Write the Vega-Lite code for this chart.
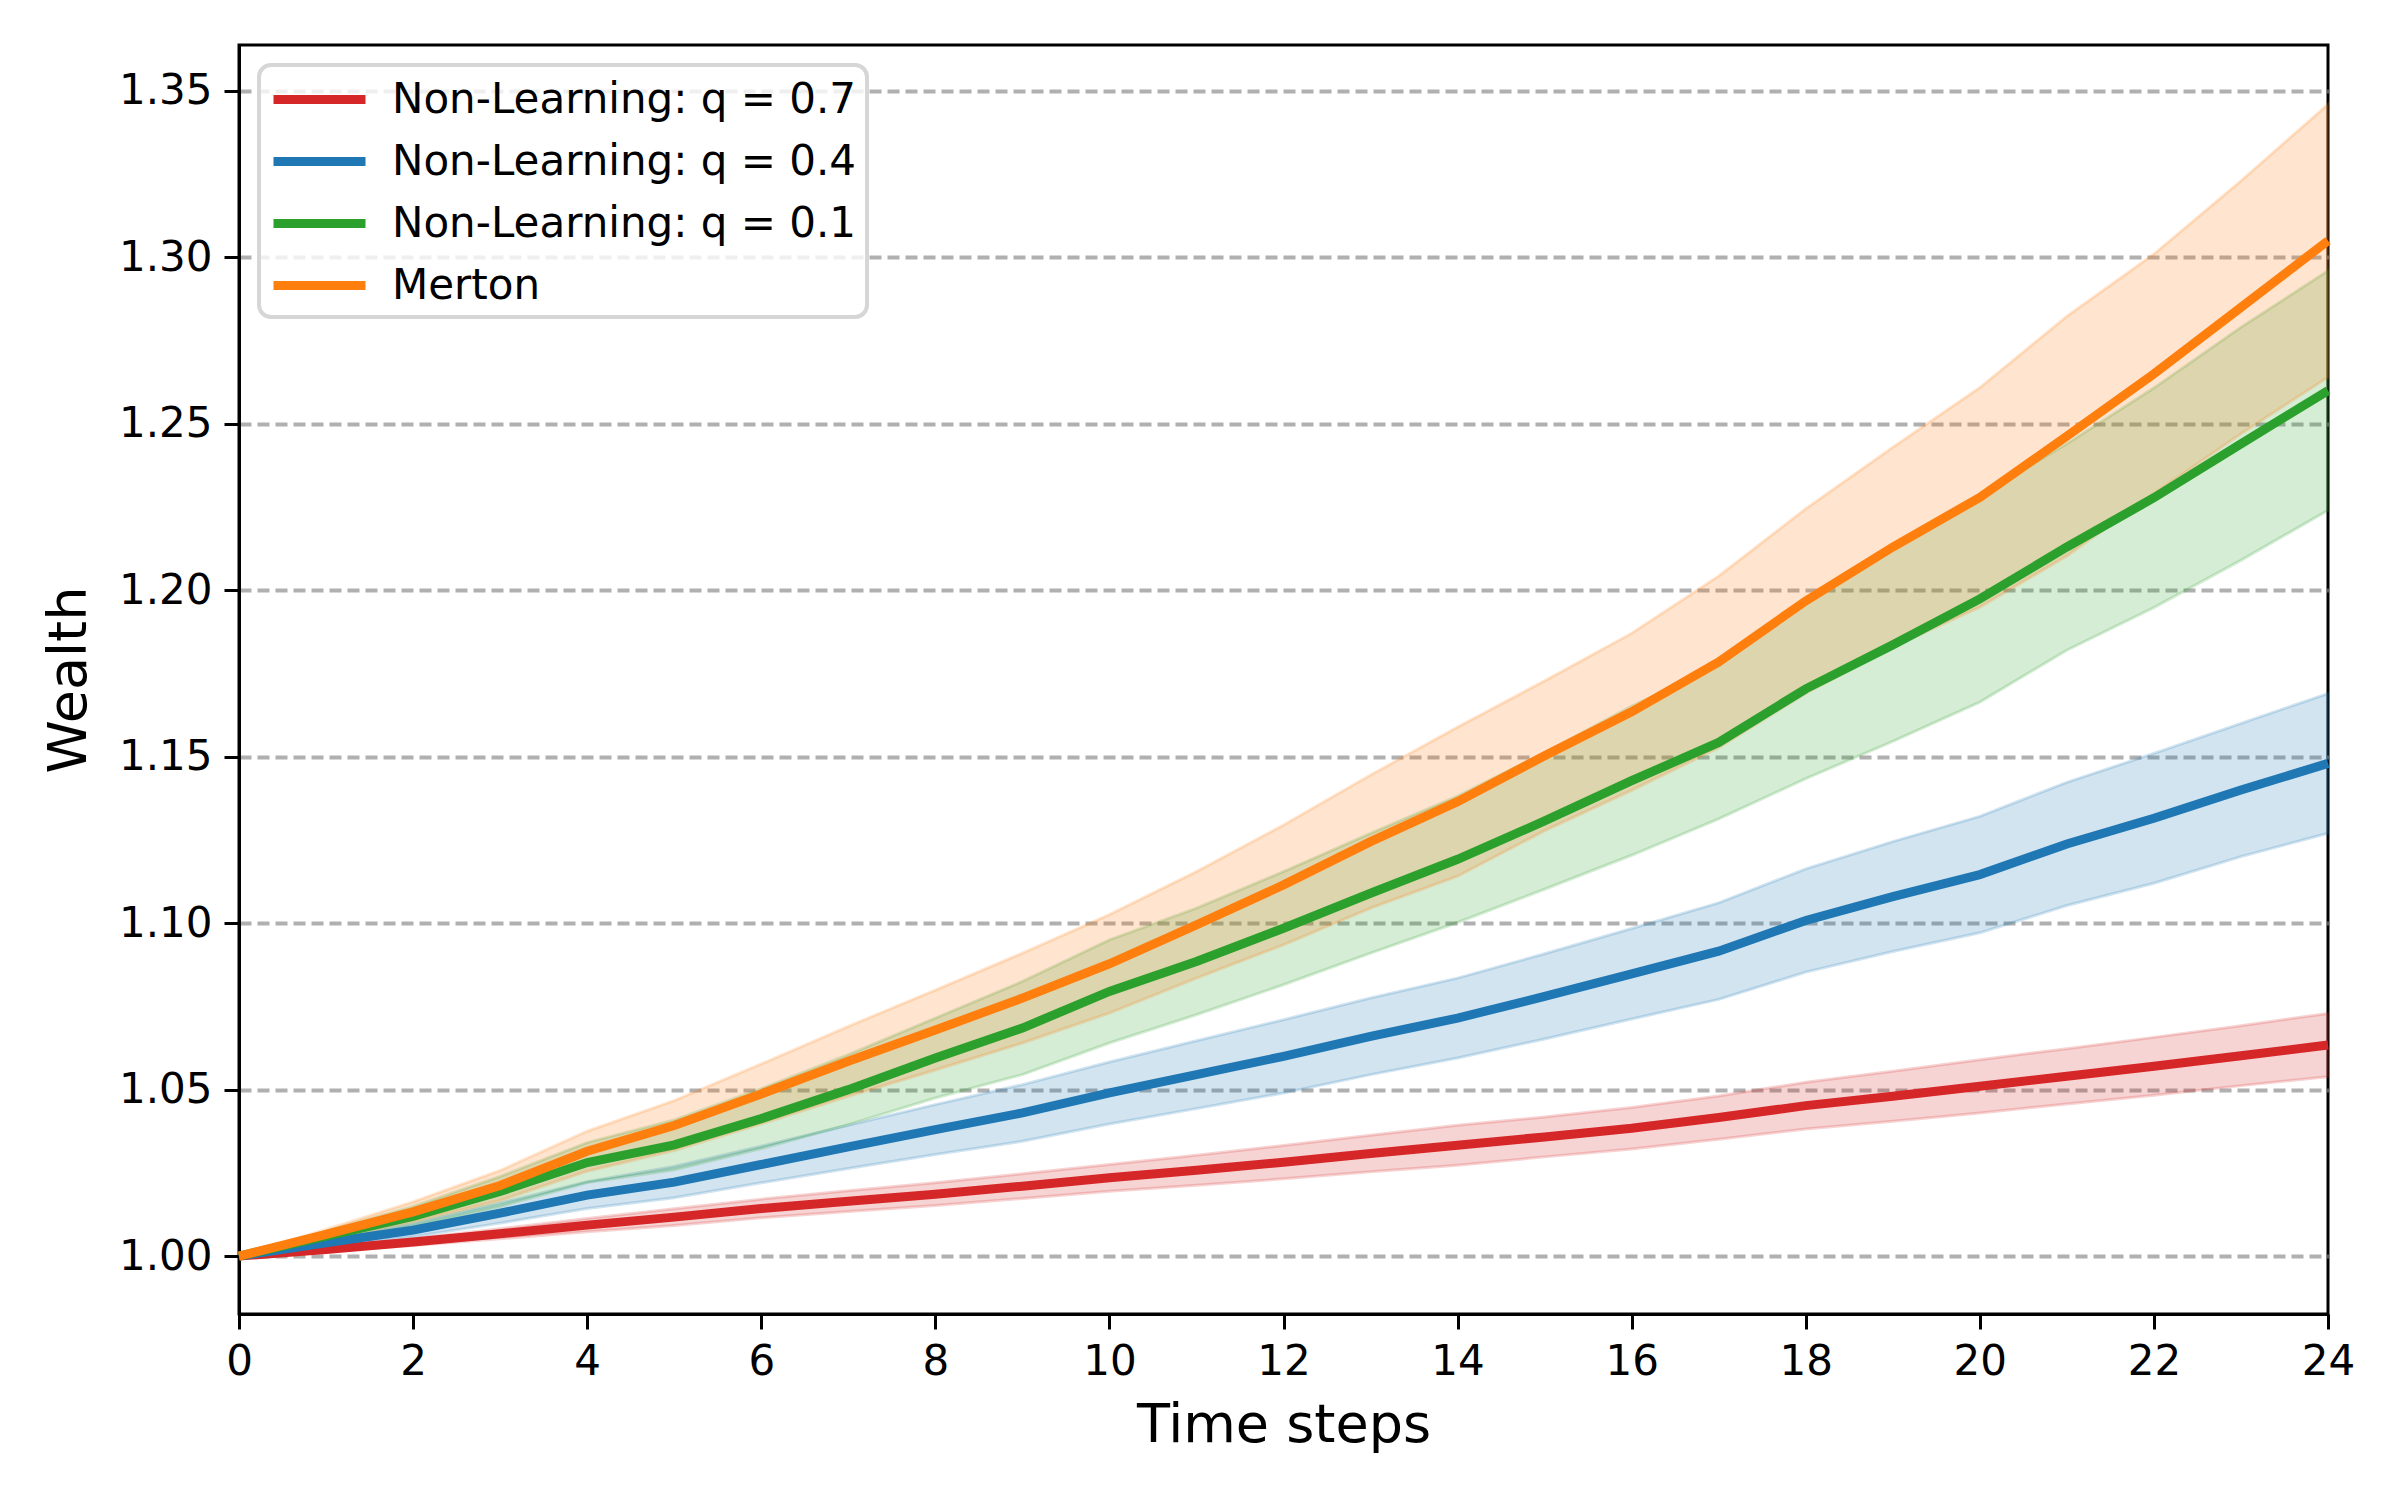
{
  "$schema": "https://vega.github.io/schema/vega-lite/v6.json",
  "autosize": "none",
  "width": 2089,
  "height": 1269,
  "padding": {"left": 239, "top": 45, "right": 72, "bottom": 186},
  "background": "white",
  "data": {
    "values": [
      {"step": 0, "series": "Non-Learning: q = 0.7", "mean": 1.0000, "lo": 1.0000, "hi": 1.0000},
      {"step": 1, "series": "Non-Learning: q = 0.7", "mean": 1.0020, "lo": 1.0015, "hi": 1.0025},
      {"step": 2, "series": "Non-Learning: q = 0.7", "mean": 1.0042, "lo": 1.0032, "hi": 1.0052},
      {"step": 3, "series": "Non-Learning: q = 0.7", "mean": 1.0067, "lo": 1.0052, "hi": 1.0082},
      {"step": 4, "series": "Non-Learning: q = 0.7", "mean": 1.0093, "lo": 1.0073, "hi": 1.0113},
      {"step": 5, "series": "Non-Learning: q = 0.7", "mean": 1.0117, "lo": 1.0092, "hi": 1.0142},
      {"step": 6, "series": "Non-Learning: q = 0.7", "mean": 1.0143, "lo": 1.0115, "hi": 1.0171},
      {"step": 7, "series": "Non-Learning: q = 0.7", "mean": 1.0165, "lo": 1.0134, "hi": 1.0196},
      {"step": 8, "series": "Non-Learning: q = 0.7", "mean": 1.0186, "lo": 1.0152, "hi": 1.0220},
      {"step": 9, "series": "Non-Learning: q = 0.7", "mean": 1.0210, "lo": 1.0173, "hi": 1.0247},
      {"step": 10, "series": "Non-Learning: q = 0.7", "mean": 1.0235, "lo": 1.0195, "hi": 1.0275},
      {"step": 11, "series": "Non-Learning: q = 0.7", "mean": 1.0258, "lo": 1.0213, "hi": 1.0303},
      {"step": 12, "series": "Non-Learning: q = 0.7", "mean": 1.0282, "lo": 1.0232, "hi": 1.0332},
      {"step": 13, "series": "Non-Learning: q = 0.7", "mean": 1.0308, "lo": 1.0253, "hi": 1.0363},
      {"step": 14, "series": "Non-Learning: q = 0.7", "mean": 1.0333, "lo": 1.0273, "hi": 1.0393},
      {"step": 15, "series": "Non-Learning: q = 0.7", "mean": 1.0358, "lo": 1.0298, "hi": 1.0418},
      {"step": 16, "series": "Non-Learning: q = 0.7", "mean": 1.0384, "lo": 1.0322, "hi": 1.0446},
      {"step": 17, "series": "Non-Learning: q = 0.7", "mean": 1.0416, "lo": 1.0351, "hi": 1.0481},
      {"step": 18, "series": "Non-Learning: q = 0.7", "mean": 1.0452, "lo": 1.0382, "hi": 1.0522},
      {"step": 19, "series": "Non-Learning: q = 0.7", "mean": 1.0480, "lo": 1.0405, "hi": 1.0555},
      {"step": 20, "series": "Non-Learning: q = 0.7", "mean": 1.0510, "lo": 1.0430, "hi": 1.0590},
      {"step": 21, "series": "Non-Learning: q = 0.7", "mean": 1.0540, "lo": 1.0457, "hi": 1.0623},
      {"step": 22, "series": "Non-Learning: q = 0.7", "mean": 1.0570, "lo": 1.0483, "hi": 1.0657},
      {"step": 23, "series": "Non-Learning: q = 0.7", "mean": 1.0602, "lo": 1.0512, "hi": 1.0692},
      {"step": 24, "series": "Non-Learning: q = 0.7", "mean": 1.0634, "lo": 1.0539, "hi": 1.0729},

      {"step": 0, "series": "Non-Learning: q = 0.4", "mean": 1.0000, "lo": 1.0000, "hi": 1.0000},
      {"step": 1, "series": "Non-Learning: q = 0.4", "mean": 1.0040, "lo": 1.0030, "hi": 1.0050},
      {"step": 2, "series": "Non-Learning: q = 0.4", "mean": 1.0078, "lo": 1.0058, "hi": 1.0098},
      {"step": 3, "series": "Non-Learning: q = 0.4", "mean": 1.0129, "lo": 1.0099, "hi": 1.0159},
      {"step": 4, "series": "Non-Learning: q = 0.4", "mean": 1.0183, "lo": 1.0143, "hi": 1.0223},
      {"step": 5, "series": "Non-Learning: q = 0.4", "mean": 1.0222, "lo": 1.0175, "hi": 1.0269},
      {"step": 6, "series": "Non-Learning: q = 0.4", "mean": 1.0275, "lo": 1.0220, "hi": 1.0330},
      {"step": 7, "series": "Non-Learning: q = 0.4", "mean": 1.0328, "lo": 1.0263, "hi": 1.0393},
      {"step": 8, "series": "Non-Learning: q = 0.4", "mean": 1.0380, "lo": 1.0305, "hi": 1.0455},
      {"step": 9, "series": "Non-Learning: q = 0.4", "mean": 1.0430, "lo": 1.0345, "hi": 1.0515},
      {"step": 10, "series": "Non-Learning: q = 0.4", "mean": 1.0490, "lo": 1.0397, "hi": 1.0583},
      {"step": 11, "series": "Non-Learning: q = 0.4", "mean": 1.0545, "lo": 1.0443, "hi": 1.0647},
      {"step": 12, "series": "Non-Learning: q = 0.4", "mean": 1.0600, "lo": 1.0490, "hi": 1.0710},
      {"step": 13, "series": "Non-Learning: q = 0.4", "mean": 1.0660, "lo": 1.0545, "hi": 1.0775},
      {"step": 14, "series": "Non-Learning: q = 0.4", "mean": 1.0715, "lo": 1.0595, "hi": 1.0835},
      {"step": 15, "series": "Non-Learning: q = 0.4", "mean": 1.0780, "lo": 1.0652, "hi": 1.0908},
      {"step": 16, "series": "Non-Learning: q = 0.4", "mean": 1.0848, "lo": 1.0712, "hi": 1.0984},
      {"step": 17, "series": "Non-Learning: q = 0.4", "mean": 1.0916, "lo": 1.0771, "hi": 1.1061},
      {"step": 18, "series": "Non-Learning: q = 0.4", "mean": 1.1008, "lo": 1.0853, "hi": 1.1163},
      {"step": 19, "series": "Non-Learning: q = 0.4", "mean": 1.1080, "lo": 1.0915, "hi": 1.1245},
      {"step": 20, "series": "Non-Learning: q = 0.4", "mean": 1.1146, "lo": 1.0971, "hi": 1.1321},
      {"step": 21, "series": "Non-Learning: q = 0.4", "mean": 1.1238, "lo": 1.1053, "hi": 1.1423},
      {"step": 22, "series": "Non-Learning: q = 0.4", "mean": 1.1315, "lo": 1.1120, "hi": 1.1510},
      {"step": 23, "series": "Non-Learning: q = 0.4", "mean": 1.1400, "lo": 1.1200, "hi": 1.1600},
      {"step": 24, "series": "Non-Learning: q = 0.4", "mean": 1.1480, "lo": 1.1270, "hi": 1.1690},

      {"step": 0, "series": "Non-Learning: q = 0.1", "mean": 1.0000, "lo": 1.0000, "hi": 1.0000},
      {"step": 1, "series": "Non-Learning: q = 0.1", "mean": 1.0060, "lo": 1.0045, "hi": 1.0075},
      {"step": 2, "series": "Non-Learning: q = 0.1", "mean": 1.0119, "lo": 1.0089, "hi": 1.0149},
      {"step": 3, "series": "Non-Learning: q = 0.1", "mean": 1.0194, "lo": 1.0149, "hi": 1.0239},
      {"step": 4, "series": "Non-Learning: q = 0.1", "mean": 1.0281, "lo": 1.0221, "hi": 1.0341},
      {"step": 5, "series": "Non-Learning: q = 0.1", "mean": 1.0334, "lo": 1.0259, "hi": 1.0409},
      {"step": 6, "series": "Non-Learning: q = 0.1", "mean": 1.0413, "lo": 1.0323, "hi": 1.0503},
      {"step": 7, "series": "Non-Learning: q = 0.1", "mean": 1.0500, "lo": 1.0395, "hi": 1.0605},
      {"step": 8, "series": "Non-Learning: q = 0.1", "mean": 1.0595, "lo": 1.0475, "hi": 1.0715},
      {"step": 9, "series": "Non-Learning: q = 0.1", "mean": 1.0685, "lo": 1.0545, "hi": 1.0825},
      {"step": 10, "series": "Non-Learning: q = 0.1", "mean": 1.0795, "lo": 1.0640, "hi": 1.0950},
      {"step": 11, "series": "Non-Learning: q = 0.1", "mean": 1.0885, "lo": 1.0725, "hi": 1.1045},
      {"step": 12, "series": "Non-Learning: q = 0.1", "mean": 1.0985, "lo": 1.0815, "hi": 1.1155},
      {"step": 13, "series": "Non-Learning: q = 0.1", "mean": 1.1090, "lo": 1.0910, "hi": 1.1270},
      {"step": 14, "series": "Non-Learning: q = 0.1", "mean": 1.1192, "lo": 1.1002, "hi": 1.1382},
      {"step": 15, "series": "Non-Learning: q = 0.1", "mean": 1.1307, "lo": 1.1102, "hi": 1.1512},
      {"step": 16, "series": "Non-Learning: q = 0.1", "mean": 1.1428, "lo": 1.1204, "hi": 1.1652},
      {"step": 17, "series": "Non-Learning: q = 0.1", "mean": 1.1543, "lo": 1.1313, "hi": 1.1773},
      {"step": 18, "series": "Non-Learning: q = 0.1", "mean": 1.1704, "lo": 1.1434, "hi": 1.1974},
      {"step": 19, "series": "Non-Learning: q = 0.1", "mean": 1.1836, "lo": 1.1546, "hi": 1.2126},
      {"step": 20, "series": "Non-Learning: q = 0.1", "mean": 1.1974, "lo": 1.1664, "hi": 1.2284},
      {"step": 21, "series": "Non-Learning: q = 0.1", "mean": 1.2130, "lo": 1.1820, "hi": 1.2440},
      {"step": 22, "series": "Non-Learning: q = 0.1", "mean": 1.2278, "lo": 1.1948, "hi": 1.2608},
      {"step": 23, "series": "Non-Learning: q = 0.1", "mean": 1.2440, "lo": 1.2090, "hi": 1.2790},
      {"step": 24, "series": "Non-Learning: q = 0.1", "mean": 1.2600, "lo": 1.2240, "hi": 1.2960},

      {"step": 0, "series": "Merton", "mean": 1.0000, "lo": 1.0000, "hi": 1.0000},
      {"step": 1, "series": "Merton", "mean": 1.0065, "lo": 1.0050, "hi": 1.0080},
      {"step": 2, "series": "Merton", "mean": 1.0133, "lo": 1.0103, "hi": 1.0163},
      {"step": 3, "series": "Merton", "mean": 1.0212, "lo": 1.0167, "hi": 1.0257},
      {"step": 4, "series": "Merton", "mean": 1.0315, "lo": 1.0255, "hi": 1.0375},
      {"step": 5, "series": "Merton", "mean": 1.0392, "lo": 1.0317, "hi": 1.0467},
      {"step": 6, "series": "Merton", "mean": 1.0487, "lo": 1.0397, "hi": 1.0577},
      {"step": 7, "series": "Merton", "mean": 1.0585, "lo": 1.0480, "hi": 1.0690},
      {"step": 8, "series": "Merton", "mean": 1.0679, "lo": 1.0559, "hi": 1.0799},
      {"step": 9, "series": "Merton", "mean": 1.0775, "lo": 1.0640, "hi": 1.0910},
      {"step": 10, "series": "Merton", "mean": 1.0878, "lo": 1.0730, "hi": 1.1026},
      {"step": 11, "series": "Merton", "mean": 1.0995, "lo": 1.0835, "hi": 1.1155},
      {"step": 12, "series": "Merton", "mean": 1.1115, "lo": 1.0935, "hi": 1.1295},
      {"step": 13, "series": "Merton", "mean": 1.1245, "lo": 1.1045, "hi": 1.1445},
      {"step": 14, "series": "Merton", "mean": 1.1365, "lo": 1.1141, "hi": 1.1589},
      {"step": 15, "series": "Merton", "mean": 1.1503, "lo": 1.1278, "hi": 1.1728},
      {"step": 16, "series": "Merton", "mean": 1.1635, "lo": 1.1399, "hi": 1.1871},
      {"step": 17, "series": "Merton", "mean": 1.1785, "lo": 1.1527, "hi": 1.2043},
      {"step": 18, "series": "Merton", "mean": 1.1968, "lo": 1.1691, "hi": 1.2245},
      {"step": 19, "series": "Merton", "mean": 1.2130, "lo": 1.1830, "hi": 1.2430},
      {"step": 20, "series": "Merton", "mean": 1.2279, "lo": 1.1949, "hi": 1.2609},
      {"step": 21, "series": "Merton", "mean": 1.2463, "lo": 1.2103, "hi": 1.2823},
      {"step": 22, "series": "Merton", "mean": 1.2650, "lo": 1.2290, "hi": 1.3010},
      {"step": 23, "series": "Merton", "mean": 1.2850, "lo": 1.2470, "hi": 1.3230},
      {"step": 24, "series": "Merton", "mean": 1.3050, "lo": 1.2640, "hi": 1.3460}
    ]
  },
  "encoding": {
    "x": {
      "field": "step",
      "type": "quantitative",
      "title": "Time steps",
      "scale": {"domain": [0, 24], "nice": false, "zero": false},
      "axis": {"values": [0, 2, 4, 6, 8, 10, 12, 14, 16, 18, 20, 22, 24], "grid": false, "labelFlush": false, "labelPadding": 12, "titlePadding": 16}
    }
  },
  "layer": [
    {
      "transform": [{"filter": "datum.series === 'Non-Learning: q = 0.7'"}],
      "mark": {"type": "area", "color": "#d62728", "fillOpacity": 0.2, "stroke": "#d62728", "strokeOpacity": 0.2, "strokeWidth": 3},
      "encoding": {
        "y": {
          "field": "lo",
          "type": "quantitative",
          "title": "Wealth",
          "scale": {"domain": [0.9826, 1.3638], "nice": false, "zero": false},
          "axis": {"values": [1.0, 1.05, 1.1, 1.15, 1.2, 1.25, 1.3, 1.35], "format": ".2f", "grid": true, "titlePadding": 22}
        },
        "y2": {"field": "hi"}
      }
    },
    {
      "transform": [{"filter": "datum.series === 'Non-Learning: q = 0.4'"}],
      "mark": {"type": "area", "color": "#1f77b4", "fillOpacity": 0.2, "stroke": "#1f77b4", "strokeOpacity": 0.2, "strokeWidth": 3},
      "encoding": {
        "y": {"field": "lo", "type": "quantitative"},
        "y2": {"field": "hi"}
      }
    },
    {
      "transform": [{"filter": "datum.series === 'Non-Learning: q = 0.1'"}],
      "mark": {"type": "area", "color": "#2ca02c", "fillOpacity": 0.2, "stroke": "#2ca02c", "strokeOpacity": 0.2, "strokeWidth": 3},
      "encoding": {
        "y": {"field": "lo", "type": "quantitative"},
        "y2": {"field": "hi"}
      }
    },
    {
      "transform": [{"filter": "datum.series === 'Merton'"}],
      "mark": {"type": "area", "color": "#ff7f0e", "fillOpacity": 0.2, "stroke": "#ff7f0e", "strokeOpacity": 0.2, "strokeWidth": 3},
      "encoding": {
        "y": {"field": "lo", "type": "quantitative"},
        "y2": {"field": "hi"}
      }
    },
    {
      "mark": {"type": "line", "strokeWidth": 9},
      "encoding": {
        "y": {"field": "mean", "type": "quantitative"},
        "color": {
          "field": "series",
          "type": "nominal",
          "scale": {
            "domain": ["Non-Learning: q = 0.7", "Non-Learning: q = 0.4", "Non-Learning: q = 0.1", "Merton"],
            "range": ["#d62728", "#1f77b4", "#2ca02c", "#ff7f0e"]
          },
          "legend": {
            "title": null,
            "orient": "top-left",
            "offset": 20,
            "symbolType": "M-1,0H3.6",
            "symbolSize": 1600,
            "symbolStrokeWidth": 9,
            "labelFontSize": 42,
            "labelOffset": 74,
            "labelLimit": 1000,
            "rowPadding": 16,
            "padding": 10,
            "strokeColor": "#d6d6d6",
            "fillColor": "rgba(255,255,255,0.8)",
            "cornerRadius": 12
          }
        }
      }
    }
  ],
  "config": {
    "font": "DejaVu Sans",
    "view": {"stroke": "black", "strokeWidth": 3},
    "axis": {
      "domainColor": "black",
      "domainWidth": 3,
      "tickColor": "black",
      "tickWidth": 3,
      "tickSize": 15,
      "labelFontSize": 42,
      "labelColor": "black",
      "labelPadding": 12,
      "titleFontSize": 54,
      "titleFontWeight": "normal",
      "titleColor": "black",
      "gridColor": "#b0b0b0",
      "gridDash": [12, 6],
      "gridWidth": 4
    },
    "legend": {"strokeWidth": 4}
  }
}
